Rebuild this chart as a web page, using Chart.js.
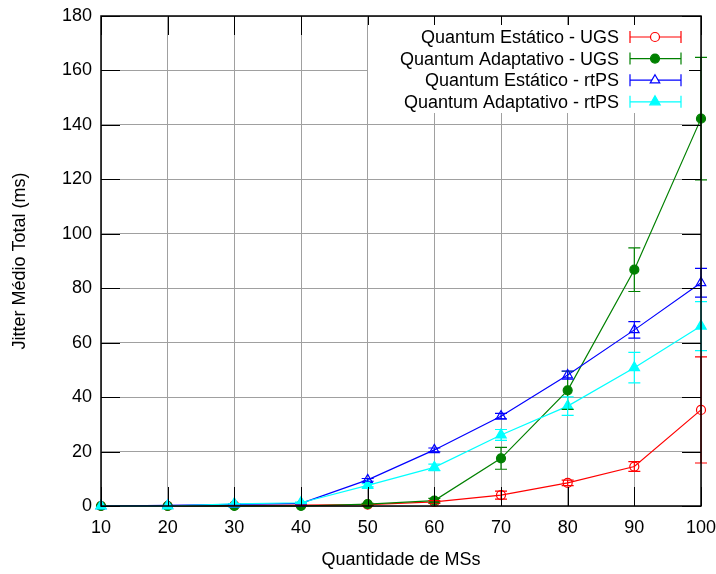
<!DOCTYPE html>
<html>
<head>
<meta charset="utf-8">
<script src="https://cdn.jsdelivr.net/npm/chart.js@4.4.1/dist/chart.umd.min.js"></script>
<style>
  html, body { margin: 0; padding: 0; background: #fff; }
</style>
</head>
<body>
<canvas id="c" width="716" height="574"></canvas>
<script>
// Quantidade de MSs (x)
const msCounts = [10, 20, 30, 40, 50, 60, 70, 80, 90, 100];

// jitter médio total (ms) and error half-widths
const estaticoUgs = [0, 0, 0.2, 0.3, 0.5, 1.5, 4, 8.5, 14.5, 35.3];
const estaticoUgsErr = [0, 0, 0.1, 0.1, 0.2, 0.5, 1.5, 1, 1.8, 19.5];
const adaptUgs = [0, 0, 0, 0, 0.7, 2, 17.5, 42.5, 86.8, 142.3];
const adaptUgsErr = [0, 0, 0, 0, 0.3, 0.8, 4, 7, 8, 22.5];
const estaticoRtps = [0, 0.2, 0.6, 1, 9.6, 20.6, 33, 48.1, 64.7, 82];
const estaticoRtpsErr = [0, 0, 0.1, 0.2, 0.5, 0.7, 1, 1.5, 3, 5.3];
const adaptRtps = [0, 0, 0.8, 1.2, 7.6, 14.2, 26.1, 36.7, 50.8, 66.1];
const adaptRtpsErr = [0, 0, 0.1, 0.2, 0.6, 1.2, 2, 3.4, 5.6, 9];

const seriesNames = [
  "Quantum Estático - UGS",
  "Quantum Adaptativo - UGS",
  "Quantum Estático - rtPS",
  "Quantum Adaptativo - rtPS"
];
const yTicks = [0, 20, 40, 60, 80, 100, 120, 140, 160, 180];

const FONT = '"Liberation Sans", Arial, sans-serif';
const TICK_LEN = 19;
const CAP = 6;

function pts(vals) {
  return vals.map((v, i) => ({ x: msCounts[i], y: v }));
}

function series(i, vals, errs, color, style, filled, radius, order) {
  return {
    label: seriesNames[i],
    data: pts(vals),
    errors: errs,
    borderColor: color,
    backgroundColor: color,
    borderWidth: 1.2,
    pointStyle: style,
    pointRadius: radius,
    pointBorderColor: color,
    pointBackgroundColor: filled ? color : "rgba(0,0,0,0)",
    pointBorderWidth: 1.2,
    filledMarker: filled,
    tension: 0,
    fill: false,
    clip: false,
    order: order
  };
}

// no extra room for labels hanging past the plot edges
function noOverhang(s) {
  s.paddingLeft = 0;
  s.paddingRight = 0;
  s.paddingTop = 0;
  s.paddingBottom = 0;
}

// vertical error bars with caps, in dataset color
const errorBars = {
  id: "errorBars",
  afterDatasetsDraw(chart) {
    const ctx = chart.ctx;
    const ys = chart.scales.y;
    chart.data.datasets.forEach((ds, i) => {
      const meta = chart.getDatasetMeta(i);
      ctx.save();
      ctx.strokeStyle = ds.borderColor;
      ctx.lineWidth = 1.2;
      meta.data.forEach((pt, j) => {
        const e = ds.errors[j];
        if (!e) return;
        const v = ds.data[j].y;
        const top = ys.getPixelForValue(v + e);
        const bot = ys.getPixelForValue(Math.max(v - e, ys.min));
        ctx.beginPath();
        ctx.moveTo(pt.x, top);
        ctx.lineTo(pt.x, bot);
        ctx.moveTo(pt.x - CAP, top);
        ctx.lineTo(pt.x + CAP, top);
        if (v - e > ys.min) {
          ctx.moveTo(pt.x - CAP, bot);
          ctx.lineTo(pt.x + CAP, bot);
        }
        ctx.stroke();
      });
      ctx.restore();
    });
  }
};

// gnuplot look: inward ticks on all sides, opaque key, black border
const frame = {
  id: "frame",
  afterDraw(chart) {
    const ctx = chart.ctx;
    const a = chart.chartArea;
    const xs = chart.scales.x, ys = chart.scales.y;
    ctx.save();
    ctx.strokeStyle = "#000";
    ctx.lineWidth = 1;
    ctx.beginPath();
    msCounts.forEach(v => {
      const px = Math.round(xs.getPixelForValue(v)) + 0.5;
      ctx.moveTo(px, a.bottom);
      ctx.lineTo(px, a.bottom - TICK_LEN);
      ctx.moveTo(px, a.top);
      ctx.lineTo(px, a.top + TICK_LEN);
    });
    yTicks.forEach(v => {
      const py = Math.round(ys.getPixelForValue(v)) + 0.5;
      ctx.moveTo(a.left, py);
      ctx.lineTo(a.left + TICK_LEN, py);
      ctx.moveTo(a.right, py);
      ctx.lineTo(a.right - TICK_LEN, py);
    });
    ctx.stroke();

    // key
    const kx = 368, ky = 25, kw = 321, kh = 88;
    ctx.fillStyle = "#fff";
    ctx.fillRect(kx, ky, kw, kh);
    ctx.font = "18px " + FONT;
    ctx.textAlign = "right";
    ctx.textBaseline = "middle";
    chart.data.datasets.forEach((ds, i) => {
      const ry = 37 + i * 21.6;
      ctx.fillStyle = "#000";
      ctx.fillText(ds.label, 619, ry + 1);
      ctx.strokeStyle = ds.borderColor;
      ctx.lineWidth = 1.2;
      ctx.beginPath();
      ctx.moveTo(630, ry);
      ctx.lineTo(681, ry);
      ctx.moveTo(630, ry - CAP);
      ctx.lineTo(630, ry + CAP);
      ctx.moveTo(681, ry - CAP);
      ctx.lineTo(681, ry + CAP);
      ctx.stroke();
      ctx.fillStyle = ds.filledMarker ? ds.borderColor : "#fff";
      Chart.helpers.drawPoint(ctx, {
        pointStyle: ds.pointStyle,
        radius: ds.pointRadius,
        borderWidth: 1.2,
        rotation: 0
      }, 655, ry);
    });

    ctx.strokeStyle = "#000";
    ctx.lineWidth = 1.5;
    ctx.strokeRect(a.left, a.top, a.right - a.left, a.bottom - a.top);
    ctx.restore();
  }
};

const ctx = document.getElementById("c").getContext("2d");
const chart = new Chart(ctx, {
  type: "line",
  data: {
    datasets: [
      series(0, estaticoUgs, estaticoUgsErr, "#ff0000", "circle", false, 4.5, 4),
      series(1, adaptUgs, adaptUgsErr, "#008000", "circle", true, 4.5, 3),
      series(2, estaticoRtps, estaticoRtpsErr, "#0000ff", "triangle", false, 5.5, 2),
      series(3, adaptRtps, adaptRtpsErr, "#00ffff", "triangle", true, 6, 1)
    ]
  },
  options: {
    responsive: false,
    animation: false,
    layout: {
      padding: { top: 16, right: 15, left: 0, bottom: 0 }
    },
    plugins: {
      legend: { display: false },
      tooltip: { enabled: false }
    },
    scales: {
      x: {
        type: "linear",
        min: 10,
        max: 100,
        afterFit: s => { s.height = 68; noOverhang(s); },
        afterBuildTicks: s => { s.ticks = msCounts.map(v => ({ value: v })); },
        ticks: {
          color: "#000",
          padding: 11,
          maxRotation: 0,
          font: { family: FONT, size: 18 }
        },
        grid: { color: "#a0a0a0", lineWidth: 1, drawTicks: false },
        border: { display: false },
        title: {
          display: true,
          text: "Quantidade de MSs",
          color: "#000",
          padding: { top: 0, bottom: 3 },
          font: { family: FONT, size: 18 }
        }
      },
      y: {
        min: 0,
        max: 180,
        afterFit: s => { s.width = 101; noOverhang(s); },
        afterBuildTicks: s => { s.ticks = yTicks.map(v => ({ value: v })); },
        ticks: {
          color: "#000",
          padding: 9,
          font: { family: FONT, size: 18 }
        },
        grid: { color: "#a0a0a0", lineWidth: 1, drawTicks: false },
        border: { display: false },
        title: {
          display: true,
          text: "Jitter Médio Total (ms)",
          color: "#000",
          padding: { top: 9, bottom: 0 },
          font: { family: FONT, size: 18 }
        }
      }
    }
  },
  plugins: [errorBars, frame]
});
</script>
</body>
</html>
